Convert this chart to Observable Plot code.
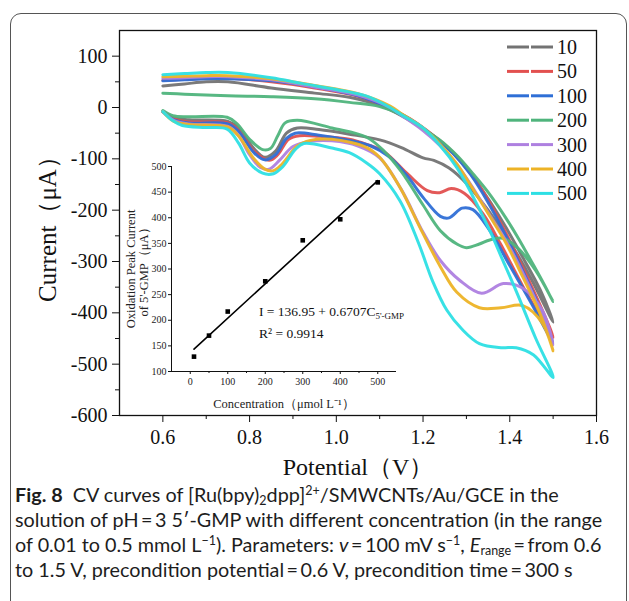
<!DOCTYPE html>
<html>
<head>
<meta charset="utf-8">
<script src="https://cdn.jsdelivr.net/npm/d3@7"></script>
<script src="https://cdn.jsdelivr.net/npm/@observablehq/plot@0.6"></script>
<style>
  html, body { margin: 0; padding: 0; background: #fff; }
  #page { position: relative; width: 629px; height: 601px; overflow: hidden; background: #fff; }
  #box { position: absolute; left: 10px; top: 13px; width: 617px; height: 640px; border: 1.4px solid #555; border-radius: 11px; box-sizing: border-box; }
  #main { position: absolute; left: 0; top: 0; }
  #inset { position: absolute; left: 115px; top: 150px; }
  #legend { position: absolute; left: 0; top: 0; }
  .eq { position: absolute; font-family: "Liberation Serif", "Times New Roman", serif; font-size: 13.5px; color: #111; white-space: nowrap; }
  .eq sub { font-size: 9px; vertical-align: -3px; line-height: 0; }
  #caption { position: absolute; left: 15px; top: 482px; font-family: Lato, "Open Sans", sans-serif; font-size: 19.8px; line-height: 25px; color: #1d1d1d; white-space: nowrap; }
  #caption sub, #caption sup { font-size: 12.5px; line-height: 0; }
  #caption sup { vertical-align: 7px; }
  #caption sub { vertical-align: -3px; }
  #caption b { font-weight: 700; }
</style>
</head>
<body>
<div id="page">
  <div id="box"></div>
  <div id="main"></div>
  <div id="inset"></div>
  <div id="legend"></div>
  <div class="eq" style="left:259px; top:304px;">I = 136.95 + 0.6707C<sub>5'-GMP</sub></div>
  <div class="eq" style="left:259px; top:326px;">R² = 0.9914</div>
  <div id="caption"><b>Fig. 8</b>&nbsp; CV curves of [Ru(bpy)<sub>2</sub>dpp]<sup>2+</sup>/SMWCNTs/Au/GCE in the<br>solution of pH&#8201;=&#8201;3 5′-GMP with different concentration (in the range<br>of 0.01 to 0.5 mmol L<sup>−1</sup>). Parameters: <i>v</i>&#8201;=&#8201;100 mV s<sup>−1</sup>, <i>E</i><sub>range</sub>&#8201;=&#8201;from 0.6<br>to 1.5 V, precondition potential&#8201;=&#8201;0.6 V, precondition time&#8201;=&#8201;300 s</div>
</div>
<script>
// ---------- data ----------
const seriesNames = ["10", "50", "100", "200", "300", "400", "500"];
const palette = ["#737373", "#e2504f", "#2f6fd6", "#4fb47c", "#ae80e0", "#edb326", "#2ddfe4"];

// CV curves: forward scan (0.6 -> 1.5 V) then reverse scan (1.5 -> 0.6 V); [potential V, current µA]
const cv10 = [[0.6,-8],[0.625,-20],[0.66,-24],[0.75,-27],[0.775,-40],[0.81,-80],[0.835,-97],[0.86,-85],[0.885,-50],[0.91,-40],[0.96,-43],[1.03,-52],[1.1,-63],[1.15,-78],[1.2,-98],[1.225,-103],[1.26,-118],[1.3,-148],[1.35,-200],[1.4,-262],[1.45,-335],[1.5,-418],
  [1.47,-355],[1.43,-292],[1.39,-232],[1.354,-183],[1.315,-135],[1.278,-97],[1.24,-66],[1.2,-42],[1.15,-16],[1.1,4],[1.03,20],[0.95,28],[0.85,38],[0.75,50],[0.7,50],[0.65,46],[0.6,42]];
const cv50 = [[0.6,-8],[0.625,-22],[0.66,-28],[0.75,-30],[0.775,-45],[0.81,-85],[0.845,-103],[0.865,-92],[0.89,-62],[0.915,-55],[0.96,-56],[1.03,-62],[1.07,-72],[1.11,-86],[1.165,-130],[1.21,-162],[1.238,-166],[1.265,-158],[1.295,-167],[1.338,-207],[1.38,-268],[1.43,-348],[1.5,-448],
  [1.47,-385],[1.43,-312],[1.39,-243],[1.35,-180],[1.31,-128],[1.27,-88],[1.22,-52],[1.17,-22],[1.12,0],[1.05,22],[0.95,38],[0.85,50],[0.75,57],[0.7,57],[0.65,55],[0.6,53]];
const cv100 = [[0.6,-8],[0.625,-24],[0.66,-30],[0.75,-32],[0.775,-47],[0.81,-88],[0.835,-102],[0.86,-92],[0.885,-60],[0.905,-50],[0.96,-54],[1.03,-64],[1.08,-75],[1.124,-97],[1.165,-135],[1.2,-175],[1.24,-212],[1.26,-215],[1.29,-196],[1.315,-199],[1.354,-240],[1.4,-308],[1.45,-382],[1.5,-458],
  [1.47,-392],[1.43,-318],[1.39,-248],[1.35,-185],[1.31,-131],[1.27,-90],[1.22,-53],[1.17,-23],[1.12,0],[1.05,23],[0.95,40],[0.85,52],[0.75,56],[0.7,56],[0.65,54],[0.6,52]];
const cv200 = [[0.6,-6],[0.623,-16],[0.66,-18],[0.748,-19],[0.77,-31],[0.8,-62],[0.83,-82],[0.848,-80],[0.865,-55],[0.882,-30],[0.91,-25],[0.99,-40],[1.07,-58],[1.11,-85],[1.15,-125],[1.2,-190],[1.24,-240],[1.278,-266],[1.3,-273],[1.33,-266],[1.354,-258],[1.385,-255],[1.42,-275],[1.46,-318],[1.5,-378],
  [1.475,-338],[1.45,-300],[1.42,-255],[1.39,-214],[1.35,-165],[1.315,-129],[1.28,-95],[1.24,-64],[1.2,-42],[1.15,-14],[1.1,2],[1.03,10],[0.95,17],[0.85,21],[0.75,23],[0.65,26],[0.6,28]];
const cv300 = [[0.6,-8],[0.625,-25],[0.66,-32],[0.75,-37],[0.775,-55],[0.8,-92],[0.825,-117],[0.845,-120],[0.87,-102],[0.9,-76],[0.94,-66],[0.99,-65],[1.05,-75],[1.1,-98],[1.15,-160],[1.2,-243],[1.24,-298],[1.285,-337],[1.335,-362],[1.385,-343],[1.43,-352],[1.475,-395],[1.5,-462],
  [1.47,-395],[1.43,-322],[1.39,-258],[1.354,-210],[1.31,-150],[1.278,-112],[1.24,-75],[1.2,-45],[1.15,-15],[1.124,0],[1.05,24],[0.95,40],[0.85,54],[0.75,60],[0.7,60],[0.65,58],[0.6,57]];
const cv400 = [[0.6,-8],[0.625,-27],[0.66,-33],[0.75,-38],[0.775,-56],[0.81,-100],[0.835,-120],[0.855,-123],[0.875,-110],[0.91,-75],[0.94,-64],[0.99,-62],[1.07,-78],[1.1,-97],[1.147,-156],[1.193,-234],[1.24,-310],[1.278,-360],[1.33,-390],[1.38,-390],[1.43,-386],[1.475,-420],[1.5,-474],
  [1.47,-402],[1.43,-330],[1.39,-262],[1.354,-212],[1.31,-152],[1.278,-110],[1.24,-72],[1.2,-40],[1.15,-12],[1.124,3],[1.05,27],[0.95,43],[0.85,56],[0.75,62],[0.7,62],[0.65,61],[0.6,60]];
const cv500 = [[0.6,-8],[0.62,-24],[0.645,-35],[0.7,-39],[0.748,-42],[0.775,-70],[0.8,-108],[0.83,-128],[0.855,-129],[0.877,-115],[0.905,-82],[0.925,-70],[0.99,-79],[1.03,-88],[1.07,-108],[1.1,-129],[1.147,-182],[1.19,-265],[1.223,-340],[1.255,-395],[1.29,-432],[1.33,-460],[1.38,-468],[1.415,-468],[1.455,-482],[1.5,-526],
  [1.46,-450],[1.417,-362],[1.384,-298],[1.354,-240],[1.31,-165],[1.278,-117],[1.24,-75],[1.2,-40],[1.15,-14],[1.124,0],[1.07,22],[1.0,35],[0.92,47],[0.85,58],[0.75,68],[0.7,68],[0.65,66],[0.6,64]];
const cvCurves = [cv10, cv50, cv100, cv200, cv300, cv400, cv500];

const xTicks = [0.6, 0.8, 1.0, 1.2, 1.4, 1.6];
const xMinor = [0.7, 0.9, 1.1, 1.3, 1.5];
const yTicks = [-600, -500, -400, -300, -200, -100, 0, 100];
const yMinor = [-550, -450, -350, -250, -150, -50, 50];
const xDomain = [0.5, 1.6];
const yDomain = [-600, 150];

// inset: oxidation peak current vs concentration
const concentration = [10, 50, 100, 200, 300, 400, 500];
const peakCurrent = [129, 170, 217, 276, 356, 397, 469];
const fitConc = [10, 500];
const fitCurrent = [143.7, 472.3];
const insetXTicks = [0, 100, 200, 300, 400, 500];
const insetXMinor = [50, 150, 250, 350, 450];
const insetYTicks = [100, 150, 200, 250, 300, 350, 400, 450, 500];
const insetXDomain = [-50, 550];
const insetYDomain = [100, 500];

// ---------- main chart ----------
const serif = '"Liberation Serif", "Times New Roman", serif';
const rows = seriesNames.flatMap((s, k) => cvCurves[k].map(([v, i]) => ({s, v, i})));

const main = Plot.plot({
  width: 629, height: 490,
  marginLeft: 119, marginRight: 33, marginTop: 30, marginBottom: 75,
  style: {fontFamily: serif, background: "transparent", overflow: "visible"},
  x: {domain: xDomain},
  y: {domain: yDomain},
  color: {domain: seriesNames, range: palette},
  marks: [
    Plot.line(rows, {x: "v", y: "i", z: "s", stroke: "s", strokeWidth: 3, curve: "catmull-rom", strokeOpacity: 0.95}),
    Plot.frame({stroke: "#111", strokeWidth: 1.3}),
    Plot.axisX({ticks: xTicks, tickSize: 7, tickPadding: 7, tickFormat: d3.format(".1f"), fontSize: 20, label: null, stroke: "#111", fill: "#111"}),
    Plot.axisX({ticks: xMinor, tickSize: 4, tickFormat: () => "", label: null, stroke: "#111"}),
    Plot.axisY({ticks: yTicks, tickSize: 7, tickPadding: 5, tickFormat: d => String(d), fontSize: 20, label: null, stroke: "#111", fill: "#111"}),
    Plot.axisY({ticks: yMinor, tickSize: 4, tickFormat: () => "", label: null, stroke: "#111"}),
    Plot.text(["Current（μA）"], {frameAnchor: "left", textAnchor: "middle", lineAnchor: "middle", rotate: -90, dx: -72, fontSize: 25, fill: "#111"}),
    Plot.text(["Potential（V）"], {frameAnchor: "bottom", textAnchor: "middle", lineAnchor: "middle", dy: 52, fontSize: 24, fill: "#111"})
  ]
});
document.getElementById("main").append(main);

// ---------- inset chart ----------
const pts = concentration.map((c, k) => ({c, i: peakCurrent[k]}));
const fit = fitConc.map((c, k) => ({c, i: fitCurrent[k]}));
const inset = Plot.plot({
  width: 290, height: 265,
  marginLeft: 56, marginRight: 9, marginTop: 16, marginBottom: 44,
  style: {fontFamily: serif, background: "transparent", overflow: "visible"},
  x: {domain: insetXDomain},
  y: {domain: insetYDomain},
  marks: [
    Plot.ruleX([insetXDomain[0]], {stroke: "#111", strokeWidth: 1}),
    Plot.ruleY([insetYDomain[0]], {stroke: "#111", strokeWidth: 1}),
    Plot.line(fit, {x: "c", y: "i", stroke: "#000", strokeWidth: 1.6}),
    Plot.dot(pts, {x: "c", y: "i", symbol: "square", r: 2.6, fill: "#000", stroke: "none"}),
    Plot.axisX({ticks: insetXTicks, tickSize: 3, tickPadding: 3, fontSize: 10, label: null, stroke: "#111", fill: "#222"}),
    Plot.axisX({ticks: insetXMinor, tickSize: 2, tickFormat: () => "", label: null, stroke: "#111"}),
    Plot.axisY({ticks: insetYTicks, tickSize: 3, tickPadding: 2, fontSize: 10, label: null, stroke: "#111", fill: "#222"}),
    Plot.text(["Oxidation Peak Current\nof 5'-GMP（μA）"], {frameAnchor: "left", textAnchor: "middle", lineAnchor: "middle", rotate: -90, dx: -34, fontSize: 12.5, lineHeight: 1.05, fill: "#222"}),
    Plot.text(["Concentration（μmol L⁻¹）"], {frameAnchor: "bottom", textAnchor: "middle", lineAnchor: "middle", dy: 32, fontSize: 12.5, fill: "#222"})
  ]
});
document.getElementById("inset").append(inset);

// ---------- legend ----------
const ns = "http://www.w3.org/2000/svg";
const lg = document.createElementNS(ns, "svg");
lg.setAttribute("width", 629); lg.setAttribute("height", 260);
seriesNames.forEach((s, k) => {
  const y = 47 + k * 24.4;
  [[507, 529], [531, 553]].forEach(([a, b]) => {
    const l = document.createElementNS(ns, "line");
    l.setAttribute("x1", a); l.setAttribute("x2", b); l.setAttribute("y1", y); l.setAttribute("y2", y);
    l.setAttribute("stroke", palette[k]); l.setAttribute("stroke-width", 3);
    lg.append(l);
  });
  const t = document.createElementNS(ns, "text");
  t.setAttribute("x", 557); t.setAttribute("y", y); t.setAttribute("dy", "0.35em");
  t.setAttribute("font-family", serif); t.setAttribute("font-size", 20); t.setAttribute("fill", "#111");
  t.textContent = s;
  lg.append(t);
});
document.getElementById("legend").append(lg);
</script>
</body>
</html>
